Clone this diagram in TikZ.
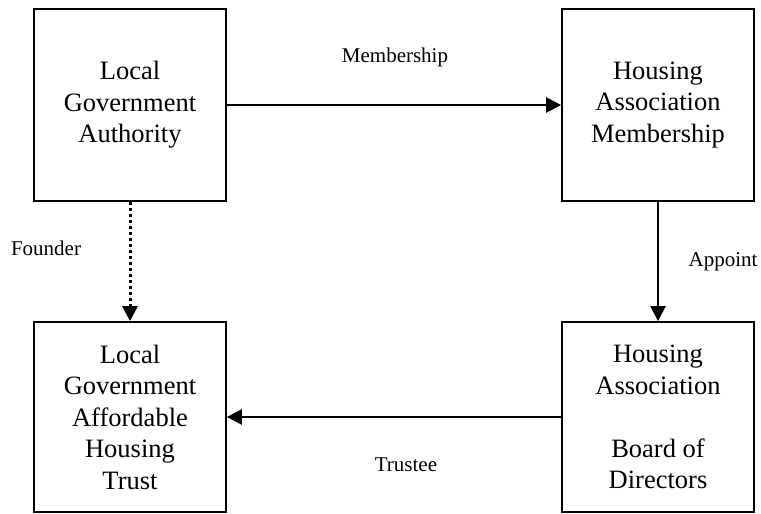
\documentclass[tikz,border=0pt]{standalone}
\usepackage{fontspec}
\setmainfont{Liberation Serif}
\usetikzlibrary{arrows.meta}
\begin{document}
\begin{tikzpicture}[x=1pt,y=-1pt,
  box/.style={draw,line width=1.8pt,rectangle,minimum width=192pt,align=center,
    font=\fontsize{26.5}{31.5}\selectfont,inner sep=0pt},
  lbl/.style={font=\fontsize{21}{25}\selectfont,inner sep=0pt},
  conn/.style={line width=2.6pt,-{Triangle[length=15pt,width=15pt]}},
  dotconn/.style={line width=3pt,dash pattern=on 3pt off 3pt,-{Triangle[length=15pt,width=15pt]}}]
\useasboundingbox (0,0) rectangle (761,514);
\node[box,minimum height=192pt] (lga) at (130,105) {Local\\Government\\Authority};
\node[box,minimum height=192pt] (ham) at (658,105) {Housing\\Association\\Membership};
\node[box,minimum height=190pt] (trust) at (130,417) {Local\\Government\\Affordable\\Housing\\Trust};
\node[box,minimum height=190pt] (board) at (658,417) {Housing\\Association\\[31.5pt]Board of\\Directors};
\draw[conn] (lga.east) -- (ham.west);
\draw[conn] (ham.south) -- (board.north);
\draw[conn] (board.west) -- (trust.east);
\draw[dotconn] (lga.south) -- (trust.north);
\node[lbl] (l1) at (395,57) {Membership};
\node[lbl] (l2) at (723,262) {Appoint};
\node[lbl] (l3) at (406,465) {Trustee};
\node[lbl] (l4) at (46,248) {Founder};
\end{tikzpicture}
\end{document}
